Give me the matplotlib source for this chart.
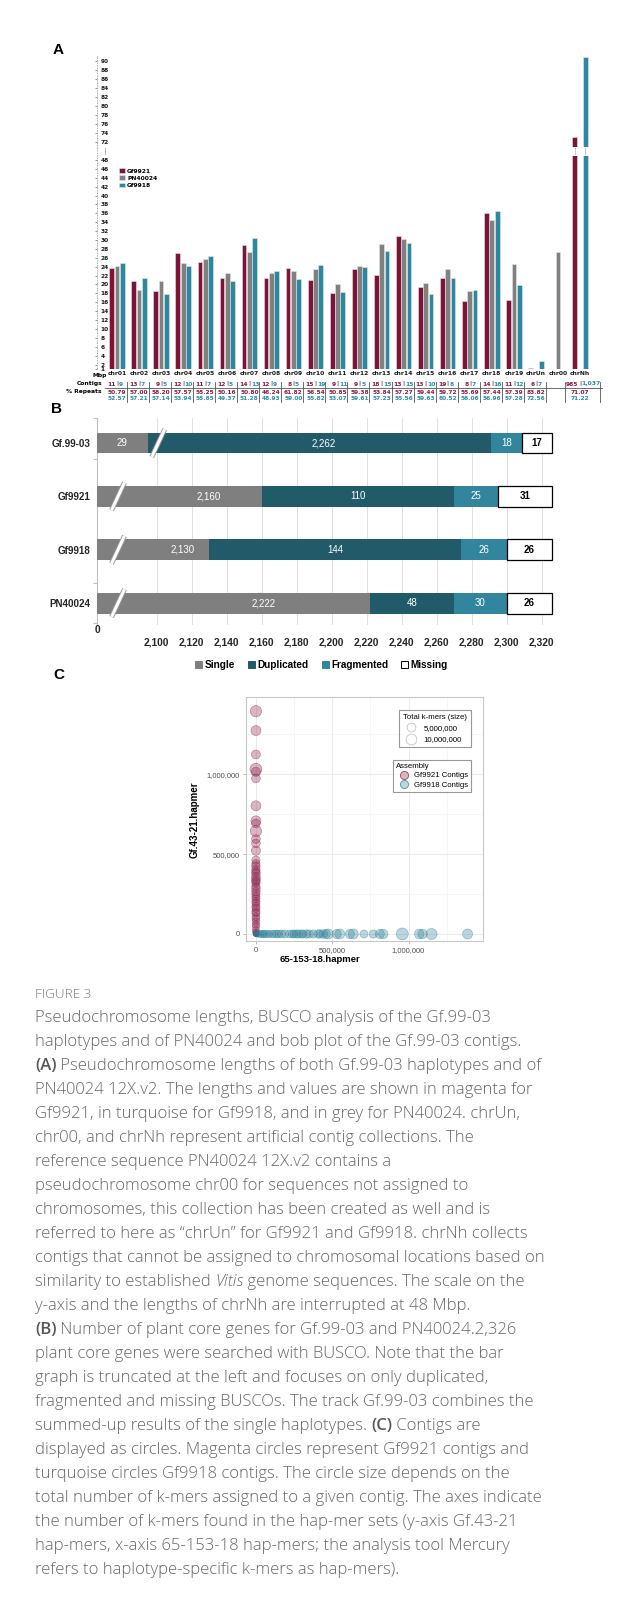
import re
import matplotlib
matplotlib.use('Agg')
import matplotlib.pyplot as plt
import matplotlib.transforms as mtransforms
from matplotlib.lines import Line2D
from matplotlib.patches import Patch
from matplotlib.ticker import FuncFormatter
import numpy as np

W, H = 643, 1602
nan = np.nan

# ---------------- panel A data (Mbp) ----------------
chroms = ['chr01', 'chr02', 'chr03', 'chr04', 'chr05', 'chr06', 'chr07', 'chr08', 'chr09', 'chr10',
          'chr11', 'chr12', 'chr13', 'chr14', 'chr15', 'chr16', 'chr17', 'chr18', 'chr19',
          'chrUn', 'chr00', 'chrNh']
len_gf9921 = [23.6, 20.85, 18.45, 27.0, 25.05, 21.4, 28.8, 21.5, 23.7, 20.9, 18.1, 23.4, 22.05,
              30.95, 19.45, 21.45, 16.2, 36.1, 16.6, 1.2, nan, 73.1]
len_pn40024 = [24.15, 18.8, 20.7, 24.8, 25.65, 22.65, 27.4, 22.6, 23.0, 23.5, 20.0, 24.2, 29.1,
               30.3, 20.25, 23.55, 18.6, 34.55, 24.7, nan, 27.4, nan]
len_gf9918 = [24.8, 21.5, 17.9, 24.15, 26.4, 20.7, 30.35, 23.1, 21.3, 24.3, 18.2, 23.85, 27.6,
              29.4, 17.85, 21.5, 18.8, 36.6, 19.95, 2.7, nan, 91.0]
contigs_gf9921 = ['11', '13', '9', '12', '11', '12', '14', '12', '8', '15', '9', '9', '18', '13',
                  '13', '19', '8', '14', '11', '6', '', '985']
contigs_gf9918 = ['9', '7', '5', '10', '7', '5', '13', '9', '5', '19', '11', '5', '15', '15',
                  '10', '8', '7', '16', '12', '7', '', '1,037']
repeats_gf9921 = ['50.79', '57.00', '58.20', '57.57', '55.25', '50.16', '50.80', '46.24', '61.82',
                  '56.54', '50.85', '59.38', '53.84', '57.27', '59.44', '59.72', '55.69', '57.44',
                  '57.39', '83.82', '', '71.07']
repeats_gf9918 = ['52.57', '57.21', '57.14', '53.94', '55.85', '49.37', '51.28', '48.93', '59.00',
                  '55.82', '53.07', '59.61', '57.23', '55.56', '59.63', '60.52', '56.06', '56.96',
                  '57.28', '72.56', '', '71.22']

# ---------------- panel B data (BUSCO counts) ----------------
busco_names = ['Gf.99-03', 'Gf9921', 'Gf9918', 'PN40024']
busco_single = [29, 2160, 2130, 2222]
busco_duplicated = [2262, 110, 144, 48]
busco_fragmented = [18, 25, 26, 30]
busco_missing = [17, 31, 26, 26]
busco_cats = ['Single', 'Duplicated', 'Fragmented', 'Missing']

# ---------------- panel C data (hap-mers, thousands; total k-mers, millions) ----------------
gf9921_x = [0] * 46
gf9921_y = [1394, 1273, 1123, 1031, 1015, 973, 802, 708, 692, 644, 594, 567, 521, 462, 440, 425,
            404, 390, 379, 358, 342, 330, 321, 300, 285, 265, 250, 233, 220, 202, 190, 171, 160,
            140, 130, 108, 95, 77, 60, 46, 25, 12, 5, 2, 1, 0.5]
gf9921_kmers = [12, 8, 5.5, 14, 6, 5, 8, 8, 5, 12, 5, 5, 6, 4, 4, 4.5, 4.5, 4, 5, 5, 5.5, 4, 4.5,
                4, 5, 4.5, 4, 4, 3.5, 4, 3.5, 4, 3.5, 4, 3.5, 3.5, 3, 3, 2.5, 2.5, 2, 1.5, 1, 0.5,
                0.3, 0.2]
gf9918_x = [1387, 1151, 1092, 1070, 959, 834, 812, 769, 708, 638, 616, 550, 529, 474, 460, 441,
            420, 408, 376, 350, 332, 310, 299, 280, 267, 250, 240, 220, 190, 168, 150, 136, 120,
            103, 85, 70, 55, 48, 35, 26, 12, 5, 2, 1]
gf9918_y = [0] * len(gf9918_x)
gf9918_kmers = [8, 11, 6.5, 7, 14, 6.5, 6, 4, 3.7, 8, 6, 8, 6, 8, 5, 5, 4, 4.5, 4, 3.7, 4.5, 3.7,
                4, 3.7, 4, 3.5, 3.7, 3.5, 3.7, 3.5, 3, 3.5, 3, 3, 2.5, 3, 2.5, 2.5, 2, 2, 1.5, 1,
                0.5, 0.3]

caption_title = 'FIGURE 3'
caption_lines = [
    'Pseudochromosome lengths, BUSCO analysis of the Gf.99-03',
    'haplotypes and of PN40024 and bob plot of the Gf.99-03 contigs.',
    '**(A)** Pseudochromosome lengths of both Gf.99-03 haplotypes and of',
    'PN40024 12X.v2. The lengths and values are shown in magenta for',
    'Gf9921, in turquoise for Gf9918, and in grey for PN40024. chrUn,',
    'chr00, and chrNh represent artificial contig collections. The',
    'reference sequence PN40024 12X.v2 contains a',
    'pseudochromosome chr00 for sequences not assigned to',
    'chromosomes, this collection has been created as well and is',
    'referred to here as \u201cchrUn\u201d for Gf9921 and Gf9918. chrNh collects',
    'contigs that cannot be assigned to chromosomal locations based on',
    'similarity to established *Vitis* genome sequences. The scale on the',
    'y-axis and the lengths of chrNh are interrupted at 48 Mbp.',
    '**(B)** Number of plant core genes for Gf.99-03 and PN40024.2,326',
    'plant core genes were searched with BUSCO. Note that the bar',
    'graph is truncated at the left and focuses on only duplicated,',
    'fragmented and missing BUSCOs. The track Gf.99-03 combines the',
    'summed-up results of the single haplotypes. **(C)** Contigs are',
    'displayed as circles. Magenta circles represent Gf9921 contigs and',
    'turquoise circles Gf9918 contigs. The circle size depends on the',
    'total number of k-mers assigned to a given contig. The axes indicate',
    'the number of k-mers found in the hap-mer sets (y-axis Gf.43-21',
    'hap-mers, x-axis 65-153-18 hap-mers; the analysis tool Mercury',
    'refers to haplotype-specific k-mers as hap-mers).',
]

MAG = '#7D1437'
GREY = '#808080'
TEAL = '#2C87A0'
MAG_TXT = '#8A1B40'
TEAL_TXT = '#2B8CAB'


def box(l, t, r, b):
    return [l / W, 1 - b / H, (r - l) / W, (b - t) / H]


def fy(py):
    return 1 - py / H


fig = plt.figure(figsize=(W / 100, H / 100), dpi=100)
fig.patch.set_facecolor('white')

# =============== panel A ===============
fa = dict(family='DejaVu Sans', weight='bold')
ax_lo = fig.add_axes(box(97, 155.5, 603, 369))
ax_hi = fig.add_axes(box(97, 55.6, 603, 146.5))
xa = np.arange(len(chroms))
series = [(len_gf9921, MAG, 'Gf9921', -0.24), (len_pn40024, GREY, 'PN40024', 0.0),
          (len_gf9918, TEAL, 'Gf9918', 0.24)]
for ax in (ax_lo, ax_hi):
    for vals, col, lab, off in series:
        ax.bar(xa + off, np.array(vals, dtype=float), width=0.215, color=col,
               edgecolor='#e6e6e6', linewidth=0.4, label=lab)
    for s in ax.spines.values():
        s.set_visible(False)
    ax.set_xlim(-0.907, 22.04)
    ax.tick_params(axis='y', direction='out', length=1.5, width=0.5, color='#666666',
                   pad=-4.2, labelsize=4.2, labelcolor='#1a1a1a')
ax_lo.set_ylim(1, 49)
ax_hi.set_ylim(71, 91.2)
ax_lo.set_yticks([1] + list(range(2, 49, 2)))
ax_hi.set_yticks(list(range(72, 91, 2)))
for ax in (ax_lo, ax_hi):
    for t in ax.get_yticklabels():
        t.set_ha('left')
        t.set_fontweight('bold')
ax_hi.tick_params(axis='x', bottom=False, labelbottom=False)
ax_lo.set_xticks(xa)
ax_lo.set_xticklabels(chroms, fontsize=4.3, **fa)
ax_lo.tick_params(axis='x', length=0, pad=1.2, labelcolor='#1a1a1a')

leg_a = ax_lo.legend(loc='upper left', bbox_to_anchor=(0.043, 0.94), frameon=False,
                     prop=dict(size=4.3, **fa), handlelength=1.0, handleheight=0.8,
                     handletextpad=0.4, labelspacing=0.3, borderpad=0, borderaxespad=0)

# dotted y axis line running through the break
fig.add_artist(Line2D([97 / W, 97 / W], [fy(56), fy(369)], color='#8c8c8c', lw=0.6,
                      ls=(0, (1, 1))))
fig.add_artist(Line2D([105 / W, 105 / W], [fy(147.5), fy(154)], color='#555555', lw=0.6,
                      ls=(0, (0.8, 0.8))))
tr_a = mtransforms.blended_transform_factory(ax_lo.transData, fig.transFigure)
for vals, col, lab, off in series:
    for i, v in enumerate(vals):
        if v > 49:
            ax_lo.plot([i + off, i + off], [fy(147.5), fy(154)], transform=tr_a, clip_on=False,
                       color='#555555', lw=0.5, ls=(0, (0.8, 0.8)))

fig.text(99.5 / W, fy(376), 'Mbp', ha='center', va='center', fontsize=4.3, **fa)
fig.text(102 / W, fy(384), 'Contigs', ha='right', va='center', fontsize=4.3, **fa)
fig.text(102 / W, fy(392), '% Repeats', ha='right', va='center', fontsize=4.3, **fa)
for i in xa:
    if contigs_gf9921[i]:
        ax_lo.text(i - 0.07, fy(384), contigs_gf9921[i], transform=tr_a, ha='right',
                   va='center', fontsize=4.3, color=MAG_TXT, **fa)
        ax_lo.text(i, fy(384), '|', transform=tr_a, ha='center', va='center', fontsize=4.3,
                   color='#333333', **fa)
        ax_lo.text(i + 0.07, fy(384), contigs_gf9918[i], transform=tr_a, ha='left',
                   va='center', fontsize=4.3, color=TEAL_TXT, **fa)
    ax_lo.text(i, fy(392), repeats_gf9921[i], transform=tr_a, ha='center', va='center',
               fontsize=4.2, color=MAG_TXT, **fa)
    ax_lo.text(i, fy(398.5), repeats_gf9918[i], transform=tr_a, ha='center', va='center',
               fontsize=4.2, color=TEAL_TXT, **fa)
sep_x = [i + 0.45 for i in range(20)] + [21 - 0.68, 21 + 0.9]
for sx in sep_x:
    ax_lo.plot([sx, sx], [fy(381.5), fy(401.5)], transform=tr_a, clip_on=False,
               color='#555555', lw=0.6)
ax_lo.plot([-0.54, 22.0], [fy(388), fy(388)], transform=tr_a, clip_on=False,
           color='#555555', lw=0.6)

# =============== panel B ===============
fb = dict(family='Liberation Sans')
ax_b = fig.add_axes(box(97, 418, 555.5, 625))
busco_start = 2066
seg_colors = ['#7F7F7F', '#215A69', '#31869E', 'white']
seg_text = ['white', 'white', 'white', 'black']
yb = np.arange(len(busco_names))
for k in yb:
    vals = [busco_single[k], busco_duplicated[k], busco_fragmented[k], busco_missing[k]]
    edges = np.cumsum([0] + vals).astype(float)
    if vals[0] < busco_start:
        edges[0] = busco_start
        edges[1] = busco_start + vals[0]
        brk = edges[1] + 6
    else:
        edges[0] = busco_start
        brk = edges[0] + 12
    for j in range(4):
        left, right = edges[j], edges[j + 1]
        ax_b.barh(k, right - left, left=left, height=0.39, color=seg_colors[j],
                  edgecolor='black' if j == 3 else 'none', linewidth=0.9, zorder=3)
        lo = max(left, 2100) if right > 2100 else left
        ax_b.text((lo + right) / 2, k, '{:,}'.format(vals[j]), ha='center', va='center',
                  color=seg_text[j], fontsize=7, weight='bold' if j == 3 else 'normal',
                  zorder=6, **fb)
    ax_b.plot([brk - 3.7, brk + 3.7], [k + 0.26, k - 0.26], color='#9a9a9a', lw=3.6,
              solid_capstyle='butt', zorder=4)
    ax_b.plot([brk - 3.7, brk + 3.7], [k + 0.26, k - 0.26], color='white', lw=2.2,
              solid_capstyle='butt', zorder=5)
ax_b.set_xlim(busco_start, 2328)
ax_b.set_ylim(3.41, -0.47)
ax_b.set_xticks(range(2100, 2321, 20))
ax_b.xaxis.set_major_formatter(FuncFormatter(lambda v, p: '{:,}'.format(int(v))))
ax_b.grid(axis='x', color='#d9d9d9', lw=0.6)
ax_b.set_axisbelow(True)
ax_b.set_yticks(yb)
ax_b.set_yticklabels(busco_names)
ax_b.set_yticks([-0.47, 0.3, 2.62, 3.38], minor=True)
ax_b.tick_params(axis='y', which='major', length=0, pad=5)
ax_b.tick_params(axis='y', which='minor', length=3, color='#bfbfbf', width=0.8)
ax_b.tick_params(axis='x', length=0, pad=9)
for t in ax_b.get_xticklabels():
    t.set_fontsize(7.4)
for t in ax_b.get_yticklabels():
    t.set_fontsize(7.1)
for t in ax_b.get_xticklabels() + ax_b.get_yticklabels():
    t.set_fontfamily('Liberation Sans')
    t.set_fontweight('bold')
    t.set_color('#262626')
for sp in ['top', 'right', 'bottom']:
    ax_b.spines[sp].set_visible(False)
ax_b.spines['left'].set_color('#bfbfbf')
ax_b.spines['left'].set_linewidth(0.8)
ax_b.text(busco_start, -0.024, '0', transform=ax_b.get_xaxis_transform(), ha='center',
          va='center', fontsize=7.4, weight='bold', color='#262626', **fb)
b_handles = [Patch(facecolor=c, edgecolor='black' if c == 'white' else c, linewidth=0.7)
             for c in seg_colors]
ax_b.legend(b_handles, busco_cats, loc='center', bbox_to_anchor=(0.49, -0.193), ncol=4,
            frameon=False, prop=dict(size=7.2, weight='bold', **fb), handlelength=0.7,
            handleheight=0.7, handletextpad=0.25, columnspacing=1.3, borderaxespad=0)

# =============== panel C ===============
ax_c = fig.add_axes(box(245.7, 697.3, 483.3, 941))


def msize(m):
    # marker diameter in points (pixel diameter grows with sqrt of total k-mers)
    return (3.87 + 2.16 * np.sqrt(np.asarray(m, dtype=float))) * 0.72


MAG_C = np.array([0.545, 0.106, 0.278])
TEAL_C = np.array([0.165, 0.498, 0.588])
for xs, ys, ks, c in [(gf9921_x, gf9921_y, gf9921_kmers, MAG_C),
                      (gf9918_x, gf9918_y, gf9918_kmers, TEAL_C)]:
    ax_c.scatter(np.array(xs) * 1000, np.array(ys) * 1000, s=msize(ks) ** 2,
                 facecolor=list(c) + [0.32], edgecolor=list(c) + [0.55], linewidth=0.4,
                 zorder=3)
ax_c.set_xlim(-67000, 1490000)
ax_c.set_ylim(-44000, 1481000)
ax_c.set_xticks([0, 500000, 1000000])
ax_c.set_yticks([0, 500000, 1000000])
ax_c.set_xticks([250000, 750000, 1250000], minor=True)
ax_c.set_yticks([250000, 750000, 1250000], minor=True)
fmt = FuncFormatter(lambda v, p: '{:,}'.format(int(v)))
ax_c.xaxis.set_major_formatter(fmt)
ax_c.yaxis.set_major_formatter(fmt)
ax_c.grid(which='major', color='#ebebeb', lw=0.7)
ax_c.grid(which='minor', color='#f3f3f3', lw=0.5)
ax_c.set_axisbelow(True)
ax_c.tick_params(which='major', length=2, width=0.5, color='#999999', labelsize=5.5,
                 labelcolor='#4d4d4d', pad=2.5)
ax_c.tick_params(which='minor', length=0)
for t in ax_c.get_xticklabels() + ax_c.get_yticklabels():
    t.set_fontfamily('Liberation Sans')
for sp in ax_c.spines.values():
    sp.set_color('#c8c8c8')
    sp.set_linewidth(0.8)
fig.text(195 / W, fy(820), 'Gf.43-21.hapmer', rotation=90, ha='center', va='center',
         fontsize=7, weight='bold', **fb)
fig.text(320 / W, fy(960), '65-153-18.hapmer', ha='center', va='center', fontsize=6.8,
         weight='bold', **fb)
size_handles = [Line2D([], [], ls='none', marker='o', markersize=msize(m),
                       markerfacecolor='white', markeredgecolor='#c4c4c4', markeredgewidth=0.6)
                for m in (5, 10)]
leg1 = ax_c.legend(size_handles, ['5,000,000', '10,000,000'], title='Total k-mers (size)',
                   loc='upper right', bbox_to_anchor=(0.948, 0.948), frameon=True,
                   fancybox=False, edgecolor='#7f7f7f', prop=dict(size=5.6, **fb),
                   title_fontproperties=dict(size=5.6, **fb), alignment='left',
                   borderpad=0.5, handletextpad=0.6, labelspacing=0.5, borderaxespad=0)
leg1.get_frame().set_linewidth(0.8)
ax_c.add_artist(leg1)
asm_handles = [Line2D([], [], ls='none', marker='o', markersize=msize(4),
                      markerfacecolor=list(c) + [0.32], markeredgecolor=list(c) + [0.8],
                      markeredgewidth=0.6) for c in (MAG_C, TEAL_C)]
leg2 = ax_c.legend(asm_handles, ['Gf9921 Contigs', 'Gf9918 Contigs'], title='Assembly',
                   loc='upper right', bbox_to_anchor=(0.948, 0.743), frameon=True,
                   fancybox=False, edgecolor='#7f7f7f', prop=dict(size=5.6, **fb),
                   title_fontproperties=dict(size=5.6, **fb), alignment='left',
                   borderpad=0.4, handletextpad=0.3, labelspacing=0.25, borderaxespad=0)
leg2.get_frame().set_linewidth(0.8)

# panel letters
for lab, px, py in [('A', 58, 50), ('B', 57, 409), ('C', 59, 675)]:
    fig.text(px / W, fy(py), lab, ha='center', va='center', fontsize=11, weight='bold', **fb)

# =============== caption ===============
CAP_FONT = 'Open Sans'
renderer = fig.canvas.get_renderer()


def text_width(s, fs, weight='normal', style='normal'):
    t1 = fig.text(0, 0, s + '|', fontsize=fs, family=CAP_FONT, weight=weight, style=style)
    t2 = fig.text(0, 0, '|', fontsize=fs, family=CAP_FONT, weight=weight, style=style)
    w = t1.get_window_extent(renderer).width - t2.get_window_extent(renderer).width
    t1.remove()
    t2.remove()
    return w


fs_body = 10 * 506.7 / text_width(caption_lines[10], 10, 'light')
fs_title = 10 * 56 / text_width(caption_title, 10, 'light')
fig.text(35 / W, fy(998.3), caption_title, fontsize=fs_title, family=CAP_FONT,
         weight='light', color='#7a7a7a', va='baseline')
for n, line in enumerate(caption_lines):
    yb_px = 1021.7 + 24.03 * n
    xpos = 35.0
    for part in re.split(r'(\*\*.*?\*\*|\*.*?\*)', line):
        if not part:
            continue
        weight, style, col = 'light', 'normal', '#666666'
        if part.startswith('**'):
            part, weight, col = part[2:-2], 'semibold', '#555555'
        elif part.startswith('*'):
            part, style = part[1:-1], 'italic'
        fig.text(xpos / W, fy(yb_px), part, fontsize=fs_body, family=CAP_FONT, weight=weight,
                 style=style, color=col, va='baseline')
        xpos += text_width(part, fs_body, weight, style)

fig.savefig('out.png', dpi=100)
